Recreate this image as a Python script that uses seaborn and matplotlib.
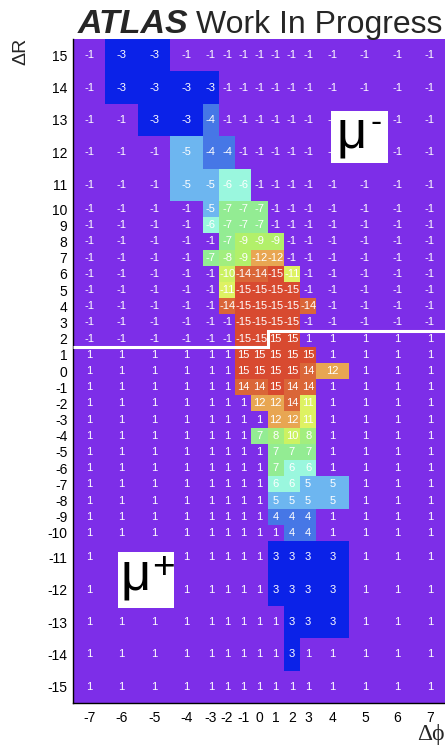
import numpy as np
import matplotlib
matplotlib.use("Agg")
import matplotlib.pyplot as plt
from matplotlib.colors import ListedColormap
from matplotlib.patches import Rectangle
import seaborn as sns

# Bin labels and (variable) bin sizes
dphi_labels = [-7, -6, -5, -4, -3, -2, -1, 0, 1, 2, 3, 4, 5, 6, 7]
dr_labels = list(range(15, -16, -1))
dphi_bin_width = [2, 2, 2, 2, 1, 1, 1, 1, 1, 1, 1, 2, 2, 2, 2]
dr_bin_height = [2] * 5 + [1] * 21 + [2] * 5

# Region id per (dR, dphi) bin, rows from dR = 15 down to dR = -15
region_id = [
    [-1, -3, -3, -1, -1, -1, -1, -1, -1, -1, -1, -1, -1, -1, -1],
    [-1, -3, -3, -3, -3, -1, -1, -1, -1, -1, -1, -1, -1, -1, -1],
    [-1, -1, -3, -3, -4, -1, -1, -1, -1, -1, -1, -1, -1, -1, -1],
    [-1, -1, -1, -5, -4, -4, -1, -1, -1, -1, -1, -1, -1, -1, -1],
    [-1, -1, -1, -5, -5, -6, -6, -1, -1, -1, -1, -1, -1, -1, -1],
    [-1, -1, -1, -1, -5, -7, -7, -7, -1, -1, -1, -1, -1, -1, -1],
    [-1, -1, -1, -1, -6, -7, -7, -7, -1, -1, -1, -1, -1, -1, -1],
    [-1, -1, -1, -1, -1, -7, -9, -9, -9, -1, -1, -1, -1, -1, -1],
    [-1, -1, -1, -1, -7, -8, -9, -12, -12, -1, -1, -1, -1, -1, -1],
    [-1, -1, -1, -1, -1, -10, -14, -14, -15, -11, -1, -1, -1, -1, -1],
    [-1, -1, -1, -1, -1, -11, -15, -15, -15, -15, -1, -1, -1, -1, -1],
    [-1, -1, -1, -1, -1, -14, -15, -15, -15, -15, -14, -1, -1, -1, -1],
    [-1, -1, -1, -1, -1, -1, -15, -15, -15, -15, -1, -1, -1, -1, -1],
    [-1, -1, -1, -1, -1, -1, -15, -15, 15, 15, 1, 1, 1, 1, 1],
    [1, 1, 1, 1, 1, 1, 15, 15, 15, 15, 15, 1, 1, 1, 1],
    [1, 1, 1, 1, 1, 1, 15, 15, 15, 15, 14, 12, 1, 1, 1],
    [1, 1, 1, 1, 1, 1, 14, 14, 15, 14, 14, 1, 1, 1, 1],
    [1, 1, 1, 1, 1, 1, 1, 12, 12, 14, 11, 1, 1, 1, 1],
    [1, 1, 1, 1, 1, 1, 1, 1, 12, 12, 11, 1, 1, 1, 1],
    [1, 1, 1, 1, 1, 1, 1, 7, 8, 10, 8, 1, 1, 1, 1],
    [1, 1, 1, 1, 1, 1, 1, 1, 7, 7, 7, 1, 1, 1, 1],
    [1, 1, 1, 1, 1, 1, 1, 1, 7, 6, 6, 1, 1, 1, 1],
    [1, 1, 1, 1, 1, 1, 1, 1, 6, 6, 5, 5, 1, 1, 1],
    [1, 1, 1, 1, 1, 1, 1, 1, 5, 5, 5, 5, 1, 1, 1],
    [1, 1, 1, 1, 1, 1, 1, 1, 4, 4, 4, 1, 1, 1, 1],
    [1, 1, 1, 1, 1, 1, 1, 1, 1, 4, 4, 1, 1, 1, 1],
    [1, 1, 1, 1, 1, 1, 1, 1, 3, 3, 3, 3, 1, 1, 1],
    [1, 1, 1, 1, 1, 1, 1, 1, 3, 3, 3, 3, 1, 1, 1],
    [1, 1, 1, 1, 1, 1, 1, 1, 1, 3, 3, 3, 1, 1, 1],
    [1, 1, 1, 1, 1, 1, 1, 1, 1, 3, 1, 1, 1, 1, 1],
    [1, 1, 1, 1, 1, 1, 1, 1, 1, 1, 1, 1, 1, 1, 1],
]

# Rainbow palette indexed by |region id| (1..15)
palette = ["#7D2EE8", "#4A28E8", "#0B22E8", "#4677E6", "#6DB6F0",
           "#9AF7DE", "#93EC93", "#A2EE7E", "#B2F06A", "#CCF262",
           "#DEF262", "#E8A652", "#E48446", "#DA6638", "#D84A30"]
cmap = ListedColormap(palette)

sns.set_style("white")
plt.rcParams["font.family"] = ["Liberation Sans", "DejaVu Sans"]

W, H = 445, 747
fig = plt.figure(figsize=(W / 100, H / 100), dpi=100)
ax = fig.add_axes([73 / W, 44 / H, 373 / W, 664 / H])

vals = np.array(region_id)
grid = np.repeat(np.repeat(np.abs(vals), dr_bin_height, axis=0),
                 dphi_bin_width, axis=1)
sns.heatmap(grid, ax=ax, cmap=cmap, vmin=0.5, vmax=15.5, cbar=False,
            xticklabels=False, yticklabels=False)

xw = np.array(dphi_bin_width, dtype=float)
yh = np.array(dr_bin_height, dtype=float)
xc = np.cumsum(xw) - xw / 2
yc = np.cumsum(yh) - yh / 2
x_edges = np.concatenate([[0], np.cumsum(xw)])
y_edges = np.concatenate([[0], np.cumsum(yh)])

for i in range(vals.shape[0]):
    for j in range(vals.shape[1]):
        ax.text(xc[j], yc[i], str(vals[i, j]), ha="center", va="center",
                color="white", fontsize=8)

# Separator between negative (mu-) and positive (mu+) regions
boundary = [y_edges[np.argmax(vals[:, j] > 0)] for j in range(vals.shape[1])]
ax.stairs(boundary, x_edges, baseline=None, color="white", lw=2.2, zorder=4)

ax.set_xticks(xc)
ax.set_xticklabels([str(v) for v in dphi_labels])
ax.set_yticks(yc)
ax.set_yticklabels([str(v) for v in dr_labels], rotation=0)
ax.tick_params(axis="both", length=0, labelsize=10, colors="black")
ax.tick_params(axis="x", pad=6)
ax.tick_params(axis="y", pad=4)
for s in ["left", "bottom"]:
    ax.spines[s].set_visible(True)
    ax.spines[s].set_color("black")
    ax.spines[s].set_linewidth(1.0)

# Title
fig.text(78 / W, 1 - 33 / H, "ATLAS", fontsize=24.5, fontweight="bold",
         fontstyle="italic", va="baseline", ha="left")
fig.text(196 / W, 1 - 33 / H, "Work In Progress", fontsize=23,
         va="baseline", ha="left")

# Axis titles
fig.text(21 / W, 1 - 38 / H, "ΔR", rotation=90, ha="center", va="top",
         fontsize=14)
fig.text(445 / W, 1 - 740 / H, "Δϕ", ha="right", va="baseline", fontsize=17,
         family=["Liberation Serif", "DejaVu Serif"])

# Charge labels in white boxes
def charge_label(x0, y0, x1, y1, mu_x, base_y, sign, sx, sy, ssize):
    ax.add_patch(Rectangle((x0 / W, 1 - y1 / H), (x1 - x0) / W, (y1 - y0) / H,
                           transform=fig.transFigure, facecolor="white",
                           edgecolor="none", zorder=6, clip_on=False))
    fig.text(mu_x / W, 1 - base_y / H, "μ", fontsize=38, ha="left",
             va="baseline", color="black", zorder=7)
    fig.text(sx / W, 1 - sy / H, sign, fontsize=ssize, ha="center",
             va="center", color="black", zorder=7)

charge_label(331, 111, 388, 163, 336, 148, "-", 376, 124, 24)
charge_label(118, 552, 174, 608, 121, 590, "+", 163, 568, 28)

fig.savefig("out.png", dpi=100)
